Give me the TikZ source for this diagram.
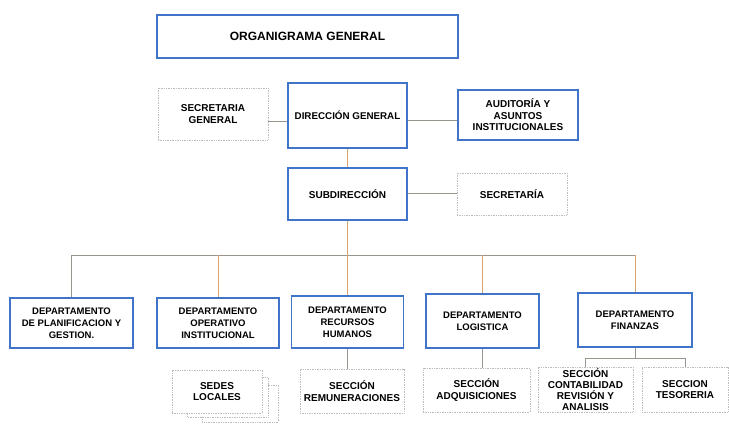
\documentclass[tikz,border=0pt]{standalone}
\usepackage{fontspec}
\setmainfont{Liberation Sans}
\definecolor{boxblue}{HTML}{3F74C8}
\definecolor{lightline}{HTML}{BDBDBD}
\definecolor{conn}{HTML}{9A948E}
\definecolor{orangeline}{HTML}{D8A56E}
\tikzset{
  bluebox/.style={draw=boxblue, line width=1.1pt, fill=white, align=center, inner sep=0pt,
    font=\bfseries\fontsize{9.5}{12}\selectfont},
  lightbox/.style={draw=lightline, densely dotted, line width=0.7pt, fill=white, align=center, inner sep=0pt,
    font=\bfseries\fontsize{10}{11.5}\selectfont},
  pagebox/.style={draw=lightline, densely dotted, line width=0.7pt, fill=white},
  hlink/.style={draw=conn, line width=0.8pt},
  vlink/.style={draw=orangeline, line width=0.8pt},
}
\begin{document}
\begin{tikzpicture}[x=1pt,y=-1pt]
\useasboundingbox[fill=white] (0,0) rectangle (729,426);

% top
\node[bluebox, minimum width=301pt, minimum height=43pt, font=\bfseries\fontsize{12}{14}\selectfont] (title) at (307.5,36.5) {ORGANIGRAMA GENERAL};

\node[lightbox, minimum width=110pt, minimum height=52pt] (sg) at (213,114) {SECRETARIA\\GENERAL};
\node[bluebox, minimum width=119pt, minimum height=65pt, font=\bfseries\fontsize{9.8}{12}\selectfont] (dg) at (347.5,115.5) {DIRECCIÓN GENERAL};
\node[bluebox, minimum width=120pt, minimum height=50pt, font=\bfseries\fontsize{10}{11.5}\selectfont] (aud) at (518,115) {AUDITORÍA Y\\ASUNTOS\\INSTITUCIONALES};

\node[bluebox, minimum width=119pt, minimum height=52pt, font=\bfseries\fontsize{10}{12}\selectfont] (sub) at (347.5,194) {SUBDIRECCIÓN};
\node[lightbox, minimum width=110pt, minimum height=42pt] (sec) at (512,194) {SECRETARÍA};

% departments
\node[bluebox, minimum width=123pt, minimum height=50pt] (d1) at (71.5,323) {DEPARTAMENTO\\DE PLANIFICACION Y\\GESTION.};
\node[bluebox, minimum width=122pt, minimum height=50pt] (d2) at (218,323) {DEPARTAMENTO\\OPERATIVO\\INSTITUCIONAL};
\node[bluebox, minimum width=112pt, minimum height=52pt] (d3) at (347.5,322) {DEPARTAMENTO\\RECURSOS\\HUMANOS};
\node[bluebox, minimum width=113pt, minimum height=54pt] (d4) at (482.5,321) {DEPARTAMENTO\\LOGISTICA};
\node[bluebox, minimum width=114pt, minimum height=54pt] (d5) at (635,320) {DEPARTAMENTO\\FINANZAS};

% sections
\draw[pagebox] (202,385) rectangle (278,422);
\draw[pagebox] (187,377) rectangle (268,417);
\node[lightbox, minimum width=90pt, minimum height=43pt] (sedes) at (217,391.5) {SEDES\\LOCALES};
\node[lightbox, minimum width=104pt, minimum height=44pt] (rem) at (352,391) {SECCIÓN\\REMUNERACIONES};
\node[lightbox, minimum width=107pt, minimum height=44pt] (adq) at (476.5,390) {SECCIÓN\\ADQUISICIONES};
\node[lightbox, minimum width=95pt, minimum height=45pt, font=\bfseries\fontsize{10}{10.8}\selectfont] (cont) at (585.5,389.5) {SECCIÓN\\CONTABILIDAD\\REVISIÓN Y\\ANALISIS};
\node[lightbox, minimum width=86pt, minimum height=45pt] (tes) at (685,389.5) {SECCION\\TESORERIA};

% connectors
\draw[hlink] (sg.east |- 0,121) -- (dg.west |- 0,121);
\draw[hlink] (dg.east |- 0,120) -- (aud.west |- 0,120);
\draw[vlink] (dg.south) -- (sub.north);
\draw[hlink] (sub.east |- 0,193) -- (sec.west |- 0,193);

\coordinate (bus) at (347.5,255);
\draw[hlink] (d1.north |- bus) -- (d5.north |- bus);
\draw[vlink] (sub.south) -- (d3.north);
\draw[hlink] (d1.north |- bus) -- (d1.north);
\draw[vlink] (d2.north |- bus) -- (d2.north);
\draw[vlink] (d4.north |- bus) -- (d4.north);
\draw[vlink] (d5.north |- bus) -- (d5.north);

\draw[hlink] (d3.south) -- (d3.south |- rem.north);
\draw[hlink] (d4.south) -- (d4.south |- adq.north);

\coordinate (fin) at (635,358);
\draw[hlink] (d5.south) -- (fin);
\draw[hlink] (cont.north) -- (cont.north |- fin) -- (tes.north |- fin) -- (tes.north);
\end{tikzpicture}
\end{document}
